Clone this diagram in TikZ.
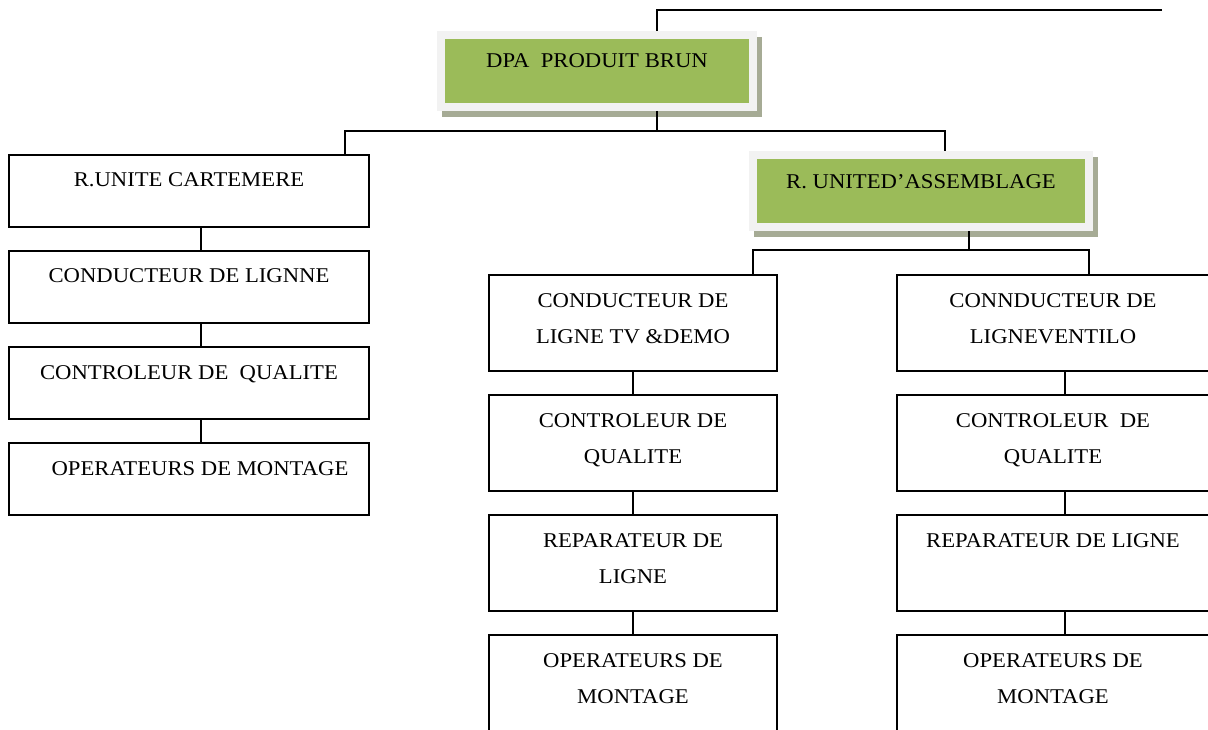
\documentclass[tikz,border=0pt]{standalone}
\usepackage{fontspec}
\setmainfont[FakeStretch=1.08]{Liberation Serif}
\usetikzlibrary{shadows}
\definecolor{leafgreen}{HTML}{9BBB59}
\definecolor{paleframe}{HTML}{F2F2F2}
\definecolor{shadowgray}{RGB}{166,171,149}
\begin{document}
\begin{tikzpicture}[x=1pt,y=-1pt,line width=2pt,
  every node/.style={font=\fontsize{21}{36}\selectfont},
  plainbox/.style={draw=black,rectangle,line width=2pt,inner sep=0pt},
  leftbox/.style={plainbox,minimum width=360pt,minimum height=72pt},
  colbox/.style={plainbox,minimum width=288pt,minimum height=96pt},
  widebox/.style={plainbox,minimum width=316pt,minimum height=96pt},
  greenbox/.style={rectangle,fill=leafgreen,draw=paleframe,line width=8pt,inner sep=0pt,
    drop shadow={shadow xshift=5pt,shadow yshift=-6pt,fill=shadowgray,draw=shadowgray,line width=8pt,opacity=1}},
  caption/.style={anchor=base,align=center,inner sep=0pt,text=black}]
\useasboundingbox (0,0) rectangle (1208,730);
\clip (0,0) rectangle (1208,730);

% head of the chart
\node[greenbox,minimum width=312pt,minimum height=72pt] (dpa) at (597,71) {};
\node[caption] (dpaT) at (597,68) {DPA\ \ PRODUIT BRUN};

% left branch
\node[leftbox] (cart) at (189,191) {};
\node[caption] (cartT) at (189,187) {R.UNITE CARTEMERE};
\node[leftbox] (lcond) at (189,287) {};
\node[caption] (lcondT) at (189,283) {CONDUCTEUR DE LIGNNE};
\node[leftbox] (lqual) at (189,383) {};
\node[caption] (lqualT) at (189,379) {CONTROLEUR DE\ \ QUALITE};
\node[leftbox] (loper) at (189,479) {};
\node[caption] (loperT) at (200,475) {OPERATEURS DE MONTAGE};

% assembly unit
\node[greenbox,minimum width=336pt,minimum height=72pt] (ass) at (921,191) {};
\node[caption] (assT) at (921,189) {R. UNITED’ASSEMBLAGE};

% middle column (two-line captions sit on the baseline of their last line)
\node[colbox] (mcond) at (633,323) {};
\node[caption] (mcondT) at (633,343) {CONDUCTEUR DE\\LIGNE TV \&DEMO};
\node[colbox] (mqual) at (633,443) {};
\node[caption] (mqualT) at (633,463) {CONTROLEUR DE\\QUALITE};
\node[colbox] (mrep) at (633,563) {};
\node[caption] (mrepT) at (633,583) {REPARATEUR DE\\LIGNE};
\node[colbox] (moper) at (633,683) {};
\node[caption] (moperT) at (633,703) {OPERATEURS DE\\MONTAGE};

% right column
\node[widebox] (rcond) at (1055,323) {};
\node[caption] (rcondT) at (1053,343) {CONNDUCTEUR DE\\LIGNEVENTILO};
\node[widebox] (rqual) at (1055,443) {};
\node[caption] (rqualT) at (1053,463) {CONTROLEUR\ \ DE\\QUALITE};
\node[widebox] (rrep) at (1055,563) {};
\node[caption] (rrepT) at (1053,547) {REPARATEUR DE LIGNE};
\node[widebox] (roper) at (1055,683) {};
\node[caption] (roperT) at (1053,703) {OPERATEURS DE\\MONTAGE};

% connectors
\coordinate (topEnd) at (1162,10);
\coordinate (topBend) at (657,10);
\draw (topEnd) -- (topBend) -- (topBend |- dpa.north);

\coordinate (busL) at (345,131);
\coordinate (busR) at (945,131);
\draw (topBend |- dpa.south) -- (topBend |- busL);
\draw (busL |- cart.north) -- (busL) -- (busR) -- (busR |- ass.north);

\coordinate (colL) at (201,0);
\draw (colL |- cart.south) -- (colL |- lcond.north);
\draw (colL |- lcond.south) -- (colL |- lqual.north);
\draw (colL |- lqual.south) -- (colL |- loper.north);

\coordinate (assDrop) at (969,250);
\coordinate (busM) at (753,250);
\coordinate (busW) at (1089,250);
\draw (assDrop |- ass.south) -- (assDrop);
\draw (busM |- mcond.north) -- (busM) -- (busW) -- (busW |- rcond.north);

\coordinate (colM) at (633,0);
\draw (colM |- mcond.south) -- (colM |- mqual.north);
\draw (colM |- mqual.south) -- (colM |- mrep.north);
\draw (colM |- mrep.south) -- (colM |- moper.north);

\coordinate (colW) at (1065,0);
\draw (colW |- rcond.south) -- (colW |- rqual.north);
\draw (colW |- rqual.south) -- (colW |- rrep.north);
\draw (colW |- rrep.south) -- (colW |- roper.north);
\end{tikzpicture}
\end{document}
